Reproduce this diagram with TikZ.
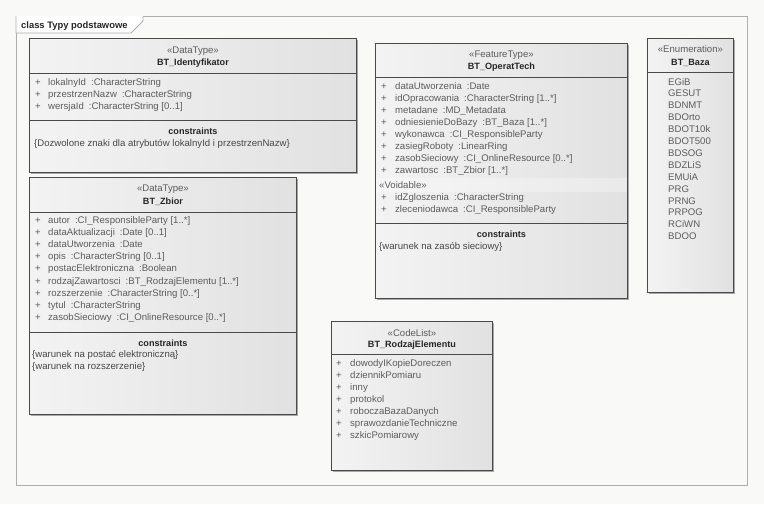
\documentclass[tikz,border=0pt]{standalone}
\usepackage{fontspec}
\setmainfont{Liberation Sans}
\usepackage{tikz}
\usetikzlibrary{shadows, positioning}
\usepackage{xcolor}
\definecolor{bgcol}{HTML}{F9FAF8}
\definecolor{framecol}{HTML}{AEAEAE}
\definecolor{umlline}{HTML}{4A4A4A}
\definecolor{clsleft}{HTML}{F3F3F3}
\definecolor{clsright}{HTML}{E1E1E1}
\definecolor{shadowgray}{HTML}{A8A8A8}
\definecolor{textgray}{HTML}{5C5C5C}
\definecolor{textdark}{HTML}{262626}

\begin{document}
\begin{tikzpicture}[x=1pt, y=-1pt,
        cls/.style={draw=umlline, line width=0.9pt, rectangle, anchor=north west, inner sep=0pt,
            left color=clsleft, right color=clsright,
            drop shadow={shadow xshift=2pt, shadow yshift=-2pt, fill=shadowgray, opacity=1}},
        sep/.style={draw=umlline, line width=0.9pt},
        stereo/.style={anchor=base, inner sep=0pt, text=textgray, font=\fontsize{9.6}{11}\selectfont},
        cname/.style={anchor=base, inner sep=0pt, text=textdark, font=\fontsize{9.1}{11}\selectfont\bfseries},
        attr/.style={anchor=base west, inner sep=0pt, text=textgray, font=\fontsize{9.6}{11}\selectfont},
        cons/.style={anchor=base west, inner sep=0pt, text=textdark!85, font=\fontsize{9.6}{11}\selectfont}
    ]
        % Tlo i ramka diagramu
        \useasboundingbox[fill=bgcol] (0,0) rectangle (764,504);
        \node[draw=framecol, line width=0.8pt, anchor=north west, minimum width=731pt, minimum height=469pt, inner sep=0pt] (frame) at (16,16) {};
        \draw[framecol, line width=0.8pt, fill=white] (frame.north west) -- ++(0,17) -- ++(115,0) -- ++(12,-12) -- ++(0,-5);
        \node[anchor=base west, inner sep=0pt, text=textdark, font=\fontsize{9.4}{11}\selectfont\bfseries] (title) at (21,28.5) {class Typy podstawowe};

        % BT_Identyfikator
        \node[cls, minimum width=327pt, minimum height=134pt] (ident) at (29,38) {};
        \draw[sep] (ident.west |- 0,73) -- (ident.east |- 0,73);
        \draw[sep] (ident.west |- 0,120) -- (ident.east |- 0,120);
        \node[stereo] (identSt) at (ident.north |- 0,53) {«DataType»};
        \node[cname] (identNm) at (ident.north |- 0,65) {BT\_Identyfikator};
        \foreach \n/\t [count=\i from 0] in {lokalnyId/CharacterString, przestrzenNazw/CharacterString, wersjaId/{CharacterString [0..1]}}
            \node[attr] (identA\i) at (35, {85+12.2*\i}) {\makebox[13pt][l]{+}\n\hspace{5pt}:\t};
        \node[cname] (identCs) at (ident.north |- 0,134) {constraints};
        \node[cons] (identC0) at (34,146) {\{Dozwolone znaki dla atrybutów lokalnyId i przestrzenNazw\}};

        % BT_Zbior
        \node[cls, minimum width=267pt, minimum height=237pt] (zbior) at (29,177) {};
        \draw[sep] (zbior.west |- 0,212) -- (zbior.east |- 0,212);
        \draw[sep] (zbior.west |- 0,332) -- (zbior.east |- 0,332);
        \node[stereo] (zbiorSt) at (zbior.north |- 0,191) {«DataType»};
        \node[cname] (zbiorNm) at (zbior.north |- 0,204) {BT\_Zbior};
        \foreach \n/\t [count=\i from 0] in {autor/{CI\_ResponsibleParty [1..*]}, dataAktualizacji/{Date [0..1]},
                dataUtworzenia/Date, opis/{CharacterString [0..1]}, postacElektroniczna/Boolean,
                rodzajZawartosci/{BT\_RodzajElementu [1..*]}, rozszerzenie/{CharacterString [0..*]},
                tytul/CharacterString, zasobSieciowy/{CI\_OnlineResource [0..*]}}
            \node[attr] (zbiorA\i) at (35, {223+12.2*\i}) {\makebox[13pt][l]{+}\n\hspace{5pt}:\t};
        \node[cname] (zbiorCs) at (zbior.north |- 0,346) {constraints};
        \node[cons] (zbiorC0) at (32,357.5) {\{warunek na postać elektroniczną\}};
        \node[cons] (zbiorC1) at (32,369.5) {\{warunek na rozszerzenie\}};

        % BT_OperatTech
        \node[cls, minimum width=252pt, minimum height=255pt] (operat) at (375,43) {};
        \fill[white, opacity=0.3] ([xshift=0.5pt]operat.west |- 0,178) rectangle ([xshift=-0.5pt]operat.east |- 0,192);
        \draw[sep] (operat.west |- 0,77) -- (operat.east |- 0,77);
        \draw[sep] (operat.west |- 0,223) -- (operat.east |- 0,223);
        \node[stereo] (operatSt) at (operat.north |- 0,57.5) {«FeatureType»};
        \node[cname] (operatNm) at (operat.north |- 0,69) {BT\_OperatTech};
        \foreach \n/\t [count=\i from 0] in {dataUtworzenia/Date, idOpracowania/{CharacterString [1..*]},
                metadane/MD\_Metadata, odniesienieDoBazy/{BT\_Baza [1..*]}, wykonawca/CI\_ResponsibleParty,
                zasiegRoboty/LinearRing, zasobSieciowy/{CI\_OnlineResource [0..*]}, zawartosc/{BT\_Zbior [1..*]}}
            \node[attr] (operatA\i) at (381, {89+12*\i}) {\makebox[14pt][l]{+}\n\hspace{5pt}:\t};
        \node[attr] (operatVd) at (379,188) {«Voidable»};
        \foreach \n/\t [count=\i from 0] in {idZgloszenia/CharacterString, zleceniodawca/CI\_ResponsibleParty}
            \node[attr] (operatV\i) at (381, {200+12*\i}) {\makebox[14pt][l]{+}\n\hspace{5pt}:\t};
        \node[cname] (operatCs) at (operat.north |- 0,237) {constraints};
        \node[cons] (operatC0) at (379,249) {\{warunek na zasób sieciowy\}};

        % BT_Baza
        \node[cls, minimum width=86pt, minimum height=254pt] (baza) at (647,38) {};
        \draw[sep] (baza.west |- 0,72) -- (baza.east |- 0,72);
        \node[stereo] (bazaSt) at (baza.north |- 0,52.5) {«Enumeration»};
        \node[cname] (bazaNm) at (baza.north |- 0,65) {BT\_Baza};
        \foreach \v [count=\i from 0] in {EGiB, GESUT, BDNMT, BDOrto, BDOT10k, BDOT500, BDSOG, BDZLiS,
                EMUiA, PRG, PRNG, PRPOG, RCiWN, BDOO}
            \node[attr] (bazaL\i) at (668, {85+11.9*\i}) {\v};

        % BT_RodzajElementu
        \node[cls, minimum width=161pt, minimum height=149pt] (rodzaj) at (331,321) {};
        \draw[sep] (rodzaj.west |- 0,354) -- (rodzaj.east |- 0,354);
        \node[stereo] (rodzajSt) at (rodzaj.north |- 0,336) {«CodeList»};
        \node[cname] (rodzajNm) at (rodzaj.north |- 0,347) {BT\_RodzajElementu};
        \foreach \v [count=\i from 0] in {dowodyIKopieDoreczen, dziennikPomiaru, inny, protokol,
                roboczaBazaDanych, sprawozdanieTechniczne, szkicPomiarowy}
            \node[attr] (rodzajL\i) at (336, {366+12.1*\i}) {\makebox[14pt][l]{+}\v};

    \end{tikzpicture}
\end{document}
